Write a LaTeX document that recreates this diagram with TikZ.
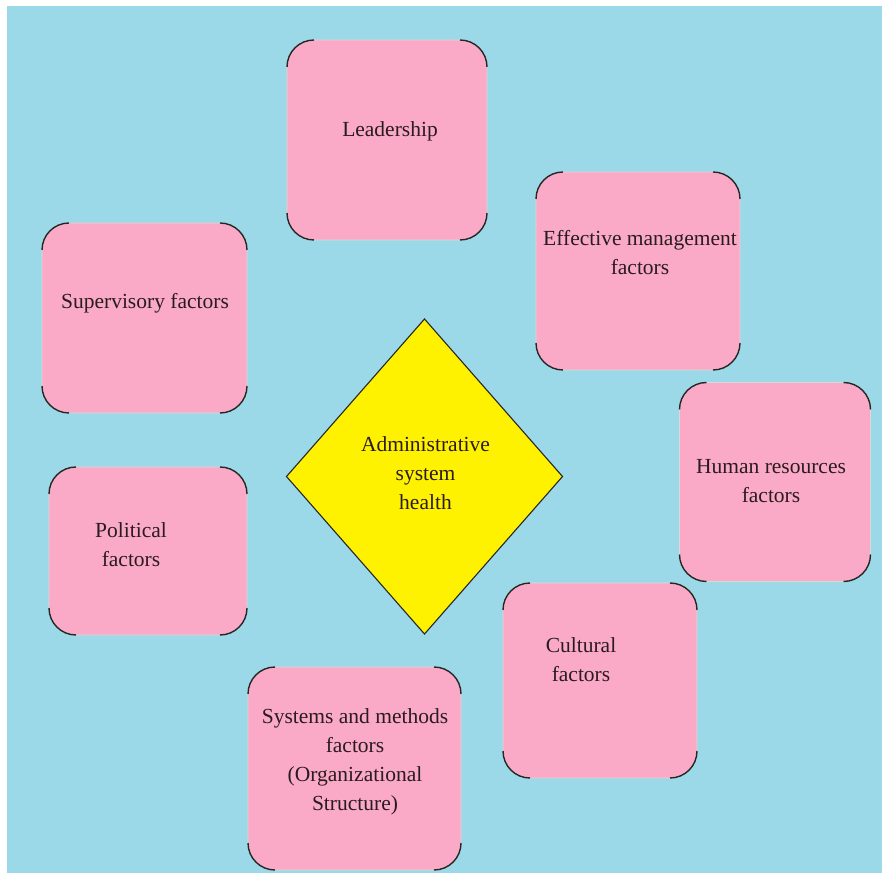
\documentclass[tikz,border=0pt]{standalone}
\usepackage{fontspec}
\setmainfont{Liberation Serif}
\usetikzlibrary{shapes.geometric}
\definecolor{bgblue}{HTML}{9BD9E8}
\definecolor{boxpink}{HTML}{FAAAC6}
\definecolor{dyellow}{HTML}{FFF200}
\definecolor{txt}{HTML}{2A1B1E}
\tikzset{
  factorbox/.style={rectangle, rounded corners=27pt, fill=boxpink, draw=gray!30, line width=0.8pt, outer sep=0pt, inner sep=0pt},
  lbl/.style={align=center, text=txt, font=\fontsize{21.5}{29}\selectfont, inner sep=0pt},
  cornerarc/.style={draw=black!85, line width=1.4pt},
  centerdiamond/.style={diamond, fill=dyellow, draw=black!85, line width=1.1pt, inner sep=0pt, outer sep=0pt}
}
\newcommand\cornerarcs[1]{%
  \draw[cornerarc] ([yshift=-27pt]#1.north west) arc[start angle=180, end angle=90, radius=27pt];
  \draw[cornerarc] ([xshift=-27pt]#1.north east) arc[start angle=90, end angle=0, radius=27pt];
  \draw[cornerarc] ([yshift=27pt]#1.south east) arc[start angle=0, end angle=-90, radius=27pt];
  \draw[cornerarc] ([xshift=27pt]#1.south west) arc[start angle=270, end angle=180, radius=27pt];
}
\begin{document}
\begin{tikzpicture}[x=1pt, y=1pt]
\useasboundingbox (0,0) rectangle (882,873);
\fill[white] (0,0) rectangle (882,873);
\fill[bgblue] (7,0) rectangle (882,867);

% boxes
\node[factorbox, minimum width=200pt, minimum height=200pt] (lead) at (387,733) {};
\node[factorbox, minimum width=204pt, minimum height=198pt] (eff) at (638,602) {};
\node[factorbox, minimum width=205pt, minimum height=190pt] (sup) at (144.5,555) {};
\node[factorbox, minimum width=191pt, minimum height=199pt] (hum) at (775,391) {};
\node[factorbox, minimum width=198pt, minimum height=168pt] (pol) at (148,322) {};
\node[factorbox, minimum width=194pt, minimum height=195pt] (cul) at (600,192.5) {};
\node[factorbox, minimum width=213pt, minimum height=203pt] (sys) at (354.5,104.5) {};

\cornerarcs{lead}
\cornerarcs{eff}
\cornerarcs{sup}
\cornerarcs{hum}
\cornerarcs{pol}
\cornerarcs{cul}
\cornerarcs{sys}

% centre diamond
\node[centerdiamond, minimum width=276pt, minimum height=315pt] (health) at (424.5,396.5) {};

% labels
\node[lbl] (leadt) at (390,742) {Leadership};
\node[lbl] (efft) at (640,620) {Effective management\\factors};
\node[lbl] (supt) at (145,570) {Supervisory factors};
\node[lbl] (humt) at (771,391.5) {Human resources\\factors};
\node[lbl] (polt) at (131,328.5) {Political\\factors};
\node[lbl] (cult) at (581,213.5) {Cultural\\factors};
\node[lbl] (syst) at (355,111.5) {Systems and methods\\factors\\(Organizational\\Structure)};
\node[lbl] (healtht) at (425.5,400) {Administrative\\system\\health};
\end{tikzpicture}
\end{document}
